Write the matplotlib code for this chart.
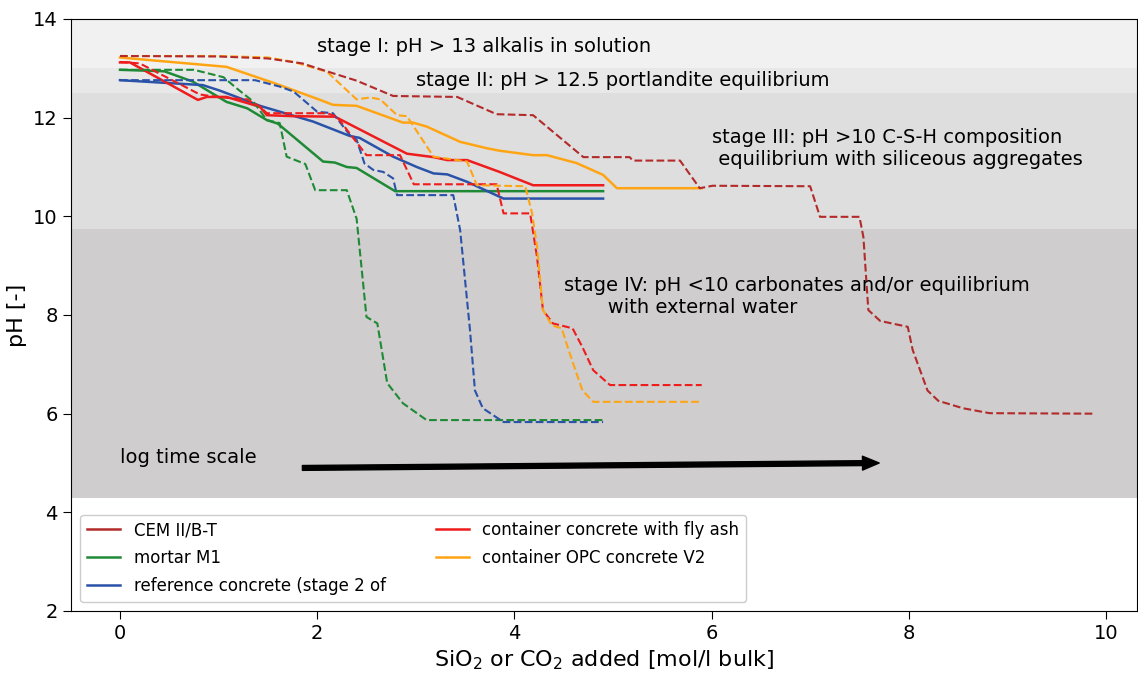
import matplotlib
matplotlib.use("Agg")
import matplotlib.pyplot as plt

# ---------------- data ----------------
labels = ["CEM II/B-T", "mortar M1", "reference concrete (stage 2 of",
          "container concrete with fly ash", "container OPC concrete V2"]
colors = ["#b22a2a", "#1e8a36", "#2a52a8", "#ee1c1c", "#ffa514"]

# CEM II/B-T (dashed)
cem_dash_x = [0, 1.0, 1.5, 1.85, 2.05, 2.4, 2.77, 3.42, 3.82, 4.19, 4.70, 5.17, 5.20, 5.68,
              5.88, 6.01, 7.0, 7.10, 7.50, 7.54, 7.59, 7.71, 7.99, 8.04, 8.19, 8.30, 8.55, 8.82, 9.87]
cem_dash_y = [13.25, 13.24, 13.2, 13.1, 12.97, 12.75, 12.44, 12.42, 12.07, 12.05, 11.2, 11.2, 11.13,
              11.13, 10.57, 10.62, 10.61, 9.99, 9.99, 9.58, 8.10, 7.88, 7.76, 7.29, 6.47, 6.26, 6.11,
              6.01, 6.0]

# mortar M1
mortar_x = [0, 0.45, 0.74, 1.08, 1.29, 1.49, 1.60, 2.06, 2.18, 2.30, 2.40, 2.79, 4.9]
mortar_y = [12.97, 12.94, 12.73, 12.32, 12.19, 11.95, 11.88, 11.11, 11.09, 11.0, 10.98, 10.51, 10.51]
mortar_dash_x = [0, 0.75, 1.05, 1.18, 1.35, 1.49, 1.62, 1.69, 1.88, 1.98, 2.30, 2.40, 2.50, 2.61,
                 2.71, 2.87, 3.11, 4.9]
mortar_dash_y = [12.97, 12.97, 12.82, 12.6, 12.33, 11.95, 11.89, 11.21, 11.06, 10.53, 10.53, 9.95,
                 7.96, 7.83, 6.62, 6.21, 5.87, 5.87]

# reference concrete
ref_x = [0, 0.84, 1.01, 1.42, 1.96, 2.33, 2.43, 2.77, 3.01, 3.18, 3.32, 3.52, 3.89, 4.9]
ref_y = [12.76, 12.66, 12.55, 12.24, 11.92, 11.63, 11.59, 11.21, 11.0, 10.87, 10.85, 10.70, 10.36, 10.36]
ref_dash_x = [0, 1.37, 1.62, 1.76, 1.86, 2.0, 2.16, 2.33, 2.40, 2.48, 2.57, 2.67, 2.77, 2.81, 3.38,
              3.45, 3.55, 3.60, 3.68, 3.89, 4.9]
ref_dash_y = [12.76, 12.76, 12.63, 12.53, 12.36, 12.12, 12.09, 11.65, 11.55, 11.07, 10.94, 10.90,
              10.77, 10.43, 10.43, 9.72, 7.69, 6.47, 6.11, 5.83, 5.83]

# container concrete with fly ash
fly_x = [0, 0.1, 0.79, 0.88, 1.08, 1.42, 1.49, 1.76, 2.18, 2.91, 3.18, 3.32, 3.52, 3.85, 4.19, 4.9]
fly_y = [13.12, 13.12, 12.36, 12.42, 12.42, 12.22, 12.05, 12.03, 12.02, 11.27, 11.2, 11.14, 11.14,
         10.9, 10.63, 10.63]
fly_dash_x = [0, 0.2, 0.81, 0.98, 1.29, 1.42, 1.49, 2.1, 2.2, 2.33, 2.5, 2.84, 2.98, 3.82, 3.89,
              4.16, 4.23, 4.29, 4.39, 4.59, 4.69, 4.80, 4.97, 5.9]
fly_dash_y = [13.13, 13.1, 12.47, 12.42, 12.37, 12.22, 12.09, 12.09, 12.02, 11.68, 11.24, 11.24,
              10.65, 10.65, 10.06, 10.06, 9.17, 8.10, 7.83, 7.73, 7.35, 6.88, 6.58, 6.58]

# container OPC concrete V2
opc_x = [0, 1.08, 1.55, 2.03, 2.16, 2.40, 2.87, 2.97, 3.11, 3.45, 3.72, 3.85, 4.19, 4.33, 4.63,
         4.90, 5.04, 5.9]
opc_y = [13.22, 13.03, 12.71, 12.36, 12.26, 12.24, 11.90, 11.9, 11.82, 11.51, 11.38, 11.33, 11.24,
         11.24, 11.08, 10.84, 10.57, 10.57]
opc_dash_x = [0, 1.0, 1.5, 1.76, 2.1, 2.40, 2.54, 2.64, 2.81, 2.91, 3.18, 3.52, 3.62, 4.11, 4.18,
              4.23, 4.29, 4.38, 4.48, 4.55, 4.69, 4.80, 5.9]
opc_dash_y = [13.25, 13.25, 13.22, 13.13, 12.93, 12.37, 12.41, 12.37, 12.05, 12.03, 11.21, 11.11,
              10.63, 10.61, 10.06, 9.38, 8.10, 7.79, 7.73, 7.29, 6.47, 6.24, 6.24]

# stage bands (lower, upper)
band_low = [13.0, 12.5, 9.75, 4.3]
band_high = [14.0, 13.0, 12.5, 9.75]
band_colors = ["#f1f1f1", "#e8e8e8", "#dedede", "#cfcdcd"]

stage_texts = ["stage I: pH > 13 alkalis in solution",
               "stage II: pH > 12.5 portlandite equilibrium",
               "stage III: pH >10 C-S-H composition\n equilibrium with siliceous aggregates",
               "stage IV: pH <10 carbonates and/or equilibrium\n       with external water"]

x_ticks = [0, 2, 4, 6, 8, 10]
y_ticks = [2, 4, 6, 8, 10, 12, 14]

# ---------------- plot ----------------
fig = plt.figure(figsize=(11.38, 6.77), dpi=100)
ax = fig.add_axes([71 / 1138, 66 / 677, 1066 / 1138, 592 / 677])

for lo, hi, c in zip(band_low, band_high, band_colors):
    ax.axhspan(lo, hi, color=c, lw=0, zorder=0)

lw = 1.8
# solid lines (legend handles)
ax.plot([], [], color=colors[0], lw=lw, label=labels[0])
ax.plot(mortar_x, mortar_y, color=colors[1], lw=lw, label=labels[1])
ax.plot(ref_x, ref_y, color=colors[2], lw=lw, label=labels[2])
ax.plot(fly_x, fly_y, color=colors[3], lw=lw, label=labels[3])
ax.plot(opc_x, opc_y, color=colors[4], lw=lw, label=labels[4])

# dashed lines
dlw = 1.5
ax.plot(mortar_dash_x, mortar_dash_y, color=colors[1], lw=dlw, ls="--")
ax.plot(ref_dash_x, ref_dash_y, color=colors[2], lw=dlw, ls="--")
ax.plot(fly_dash_x, fly_dash_y, color=colors[3], lw=dlw, ls="--")
ax.plot(opc_dash_x, opc_dash_y, color=colors[4], lw=dlw, ls="--")
ax.plot(cem_dash_x, cem_dash_y, color=colors[0], lw=dlw, ls="--")

# stage annotations
ax.text(2.0, 13.45, stage_texts[0], fontsize=14, va="center", ha="left")
ax.text(3.0, 12.76, stage_texts[1], fontsize=14, va="center", ha="left")
ax.text(6.0, 11.38, stage_texts[2], fontsize=14, va="center", ha="left", linespacing=1.2)
ax.text(4.5, 8.38, stage_texts[3], fontsize=14, va="center", ha="left", linespacing=1.2)

ax.text(0.0, 5.12, "log time scale", fontsize=14, va="center", ha="left")
ax.annotate("", xy=(7.7, 5.0), xytext=(1.85, 4.9),
            arrowprops=dict(facecolor="black", edgecolor="black", width=3.5,
                            headwidth=10, headlength=12, shrink=0))

ax.set_xlim(-0.497, 10.315)
ax.set_ylim(2, 14)
ax.set_xticks(x_ticks)
ax.set_yticks(y_ticks)
ax.tick_params(labelsize=14, length=6)
ax.set_xlabel("SiO$_2$ or CO$_2$ added [mol/l bulk]", fontsize=16)
ax.set_ylabel("pH [-]", fontsize=16)

ax.legend(loc="lower left", ncol=2, fontsize=12, framealpha=1.0,
          bbox_to_anchor=(0.0, 0.0), borderaxespad=0.55, columnspacing=3.0,
          labelspacing=0.6)

fig.savefig("out.png", dpi=100)
